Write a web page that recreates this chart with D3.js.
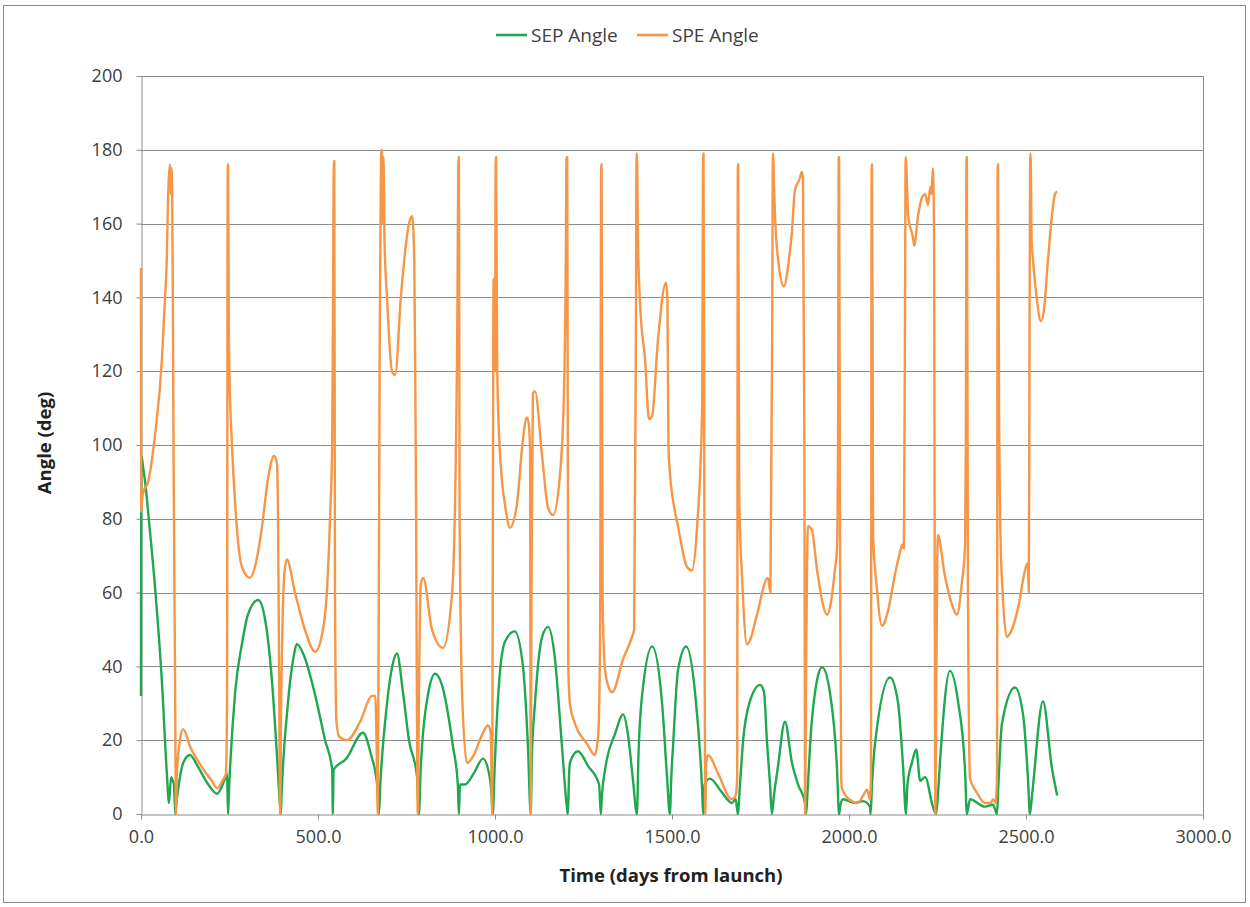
<!DOCTYPE html>
<html><head><meta charset="utf-8">
<script src="https://cdn.jsdelivr.net/npm/d3@7"></script>
<style>body{margin:0;background:#fff} text{font-family:"Open Sans",sans-serif}</style>
</head><body><svg id="c" width="1250" height="907"></svg>
<script>
const seriesNames = ["SEP Angle", "SPE Angle"];
const xTicks = [0, 500, 1000, 1500, 2000, 2500, 3000];
const yTicks = [0, 20, 40, 60, 80, 100, 120, 140, 160, 180, 200];
const xTitle = "Time (days from launch)";
const yTitle = "Angle (deg)";

// [day, deg]
const sepAngle = [
[0,32],[1,97],[6,94],[14,88],[20,82],[40,61],[59,36],[73,11],[79,3],[85,10],[90,9],[93,8],[97,0],[99,2],[110,10],[120,14],[138,16],[160,13],[190,8],[215,5.5],[235,9],[243,11],[246,0],[248,5],[266,33],[285,46],[302,54],[331,58],[350,53],[370,36],[384,16],[393,2],[395,0],[397,5],[415,30],[430,42],[441,46],[460,43],[490,33],[520,20],[540,12],[542,0],[544,12],[580,15],[627,22],[650,16],[667,8],[672,0],[676,8],[695,30],[712,41],[723,43.5],[740,33],[757,20],[780,10],[785,0],[790,12],[810,32],[831,38],[850,35],[881,18.5],[895,8],[898,0],[901,8],[915,8],[940,11],[966,15],[985,10],[989,7],[994,0],[998,10],[1008,30.5],[1028,46.7],[1056,49.5],[1079,40],[1093,18.5],[1101,0],[1104,15],[1113,30],[1133,48],[1150,50.7],[1169,42.4],[1189,18.6],[1203,2],[1206,0],[1209,10],[1212,14],[1234,17],[1263,13],[1294,8],[1299,0],[1302,5],[1311,12],[1340,22],[1362,27],[1375,22],[1390,9],[1401,0],[1405,15],[1415,31.7],[1444,45.4],[1472,30],[1486,10],[1494,0],[1498,10],[1503,18.5],[1517,39],[1540,45.4],[1565,33],[1585,6.7],[1588,0],[1592,8],[1607,9.6],[1640,6],[1669,3],[1680,4],[1686,0],[1692,8],[1701,20],[1720,30.5],[1749,35],[1760,33],[1768,20],[1777,8],[1782,0],[1788,5],[1799,12.6],[1819,25],[1839,13.8],[1856,8],[1876,3],[1878,0],[1884,8],[1890,18.6],[1910,36.4],[1924,39.8],[1946,33],[1966,12.6],[1972,0],[1975,2],[1983,4],[2017,3],[2040,3.5],[2059,2],[2061,0],[2065,8],[2073,18.6],[2116,37],[2138,30.5],[2153,12.6],[2161,0],[2165,8],[2178,14],[2190,17.5],[2201,9],[2215,10],[2237,2],[2246,0],[2251,5],[2257,14],[2285,38.8],[2308,30.5],[2328,11.4],[2333,0],[2342,4],[2384,2],[2407,2.5],[2418,0],[2422,8],[2432,24.5],[2469,34.3],[2492,26.7],[2506,8.8],[2511,0],[2517,5],[2548,30.5],[2573,12.6],[2588,5]
];

const speAngle = [
[0,148],[0.5,82],[3,85],[6,87],[20,90],[40,103],[59,123],[68,140],[73,151],[76,165],[79,173],[82,176],[84,168],[86,175],[88,169],[90,140],[92,97],[96,40],[99,0],[101,10],[110,20],[119,23],[140,18],[170,13],[200,9],[215,7],[230,9],[240,11],[243,30],[245,176],[246,176],[248,132],[250,119],[257,100],[266,84],[285,67],[308,64],[322,67],[342,78],[359,91],[376,97],[384,95],[387,81],[390,40],[393,0],[396,30],[405,65],[412,69],[435,60],[463,50],[492,44],[514,50],[525,60],[534,80],[540,100],[542,130],[545,177],[546,177],[548,60],[552,25],[560,21],[582,20],[619,25],[653,32],[662,32],[667,10],[669,0],[674,120],[678,178],[681,180],[683,160],[685,178],[688,155],[695,140],[709,120],[718,119],[734,140],[757,160],[766,162],[772,150],[776,100],[782,0],[785,30],[790,62],[797,64],[822,50],[853,45],[879,60],[893,126],[897,178],[898,178],[900,80],[908,30],[921,13.8],[940,16],[966,22],[980,24],[988,22],[992,0],[994,80],[996,145],[1000,120],[1002,178],[1003,178],[1006,125],[1008,112],[1020,90],[1028,84],[1042,77.6],[1062,84],[1079,101.6],[1090,107.5],[1095,106],[1099,99],[1101,0],[1103,60],[1107,114],[1113,114.5],[1133,97],[1150,83],[1164,81],[1184,92.5],[1195,115],[1200,150],[1202,178],[1204,178],[1207,40],[1212,29.5],[1226,24.5],[1260,19],[1282,16],[1292,22],[1297,50],[1300,176],[1301,176],[1304,58],[1310,40],[1319,35],[1331,33],[1362,42],[1387,48],[1393,50],[1398,130],[1400,179],[1401,179],[1404,155],[1410,138],[1424,123],[1435,107],[1444,108],[1460,128],[1483,144],[1487,140],[1490,100],[1494,92.5],[1503,85],[1517,78],[1542,67],[1556,66],[1571,78],[1585,109],[1588,179],[1589,179],[1591,100],[1594,0],[1597,14],[1602,16],[1630,11],[1669,4],[1680,5],[1684,10],[1686,176],[1687,176],[1690,85],[1698,64],[1712,46],[1720,47],[1740,54],[1771,64],[1778,60],[1783,130],[1785,179],[1786,179],[1788,171],[1792,160],[1800,150],[1816,143],[1830,150],[1839,158],[1847,169],[1860,172],[1867,174],[1870,172],[1874,100],[1876,0],[1879,40],[1884,78],[1895,77],[1910,66],[1938,54],[1950,58],[1960,66],[1966,72],[1969,100],[1971,178],[1972,178],[1975,60],[1978,10],[1980,7],[2000,4],[2025,3],[2040,5],[2051,6.6],[2059,4],[2062,10],[2064,176],[2065,176],[2067,120],[2068,75.6],[2078,62],[2093,51],[2110,55],[2130,65],[2144,71],[2150,73],[2155,72],[2158,130],[2160,178],[2161,178],[2164,170],[2167,162],[2181,156],[2184,154],[2195,162],[2206,167],[2215,168],[2223,165],[2230,170],[2233,168],[2237,175],[2240,160],[2244,0],[2247,40],[2251,75.6],[2270,65],[2290,57],[2305,54],[2318,62],[2328,73],[2330,100],[2332,178],[2333,178],[2336,60],[2342,9.6],[2360,6],[2384,3],[2400,3],[2407,4],[2414,3],[2418,10],[2420,176],[2421,176],[2424,110],[2428,75],[2434,60],[2446,48],[2460,50],[2480,57],[2497,66],[2505,68],[2508,60],[2510,130],[2512,179],[2513,179],[2516,155],[2520,150],[2530,140],[2542,133.6],[2550,136],[2562,150],[2573,162],[2582,168],[2588,168.7]
];

const colors = ["#1fa84f", "#f79646"];

const svg = d3.select("#c");
const pLeft = 141, pRight = 1203, pTop = 76, pBottom = 814;

svg.append("rect").attr("x", 3.5).attr("y", 5.5).attr("width", 1242).attr("height", 897)
  .attr("fill", "#fff").attr("stroke", "#8c8c8c").attr("stroke-width", 1);

const x = d3.scaleLinear().domain([0, 3000]).range([pLeft, pRight]);
const y = d3.scaleLinear().domain([0, 200]).range([pBottom, pTop]);

// gridlines
svg.append("g").selectAll("line").data(yTicks.filter(d => d > 0)).join("line")
  .attr("x1", pLeft).attr("x2", pRight)
  .attr("y1", d => Math.round(y(d)) + 0.5).attr("y2", d => Math.round(y(d)) + 0.5)
  .attr("stroke", "#8c8c8c").attr("stroke-width", 1);

// plot right border
svg.append("line").attr("x1", pRight + 0.5).attr("x2", pRight + 0.5).attr("y1", pTop).attr("y2", pBottom)
  .attr("stroke", "#8c8c8c");

// axes
const xAxis = d3.axisBottom(x).tickValues(xTicks).tickFormat(d3.format(".1f")).tickSizeInner(5).tickSizeOuter(0);
const gx = svg.append("g").attr("transform", `translate(0,${Math.round(pBottom) + 0.5})`).call(xAxis);
gx.select(".domain").attr("stroke", "#8c8c8c");
gx.selectAll(".tick line").attr("stroke", "#8c8c8c");
gx.selectAll(".tick text").attr("font-family", "Open Sans").attr("font-size", 18).attr("fill", "#404040").attr("dy", "1.15em");

const yAxis = d3.axisLeft(y).tickValues(yTicks).tickFormat(d3.format("d")).tickSizeInner(5).tickSizeOuter(0);
const gy = svg.append("g").attr("transform", `translate(${pLeft + 0.5},0)`).call(yAxis);
gy.select(".domain").attr("stroke", "#8c8c8c");
gy.selectAll(".tick line").attr("stroke", "#8c8c8c");
gy.selectAll(".tick text").attr("font-family", "Open Sans").attr("font-size", 18).attr("fill", "#404040").attr("dx", "-11");

// titles
svg.append("text").attr("x", 671).attr("y", 882).attr("text-anchor", "middle")
  .attr("font-size", 18.5).attr("font-weight", "bold").attr("fill", "#222").text(xTitle);
svg.append("text").attr("transform", "translate(51,443) rotate(-90)").attr("text-anchor", "middle")
  .attr("font-size", 18.5).attr("font-weight", "bold").attr("fill", "#222").text(yTitle);

// lines
const line = d3.line().x(d => x(d[0])).y(d => y(d[1])).curve(d3.curveMonotoneX);
[sepAngle, speAngle].forEach((data, i) => {
  svg.append("path").datum(data).attr("d", line).attr("fill", "none")
    .attr("stroke", colors[i]).attr("stroke-width", 2.4).attr("stroke-linejoin", "round");
});

// legend
const legendX = [496, 637];
seriesNames.forEach((n, i) => {
  const g = svg.append("g").attr("transform", `translate(${legendX[i]},35)`);
  g.append("line").attr("x1", 0).attr("x2", 31).attr("y1", 0).attr("y2", 0)
    .attr("stroke", colors[i]).attr("stroke-width", 2.6);
  g.append("text").attr("x", 35).attr("y", 7).attr("font-size", 19).attr("fill", "#404040").text(n);
});
</script></body></html>
